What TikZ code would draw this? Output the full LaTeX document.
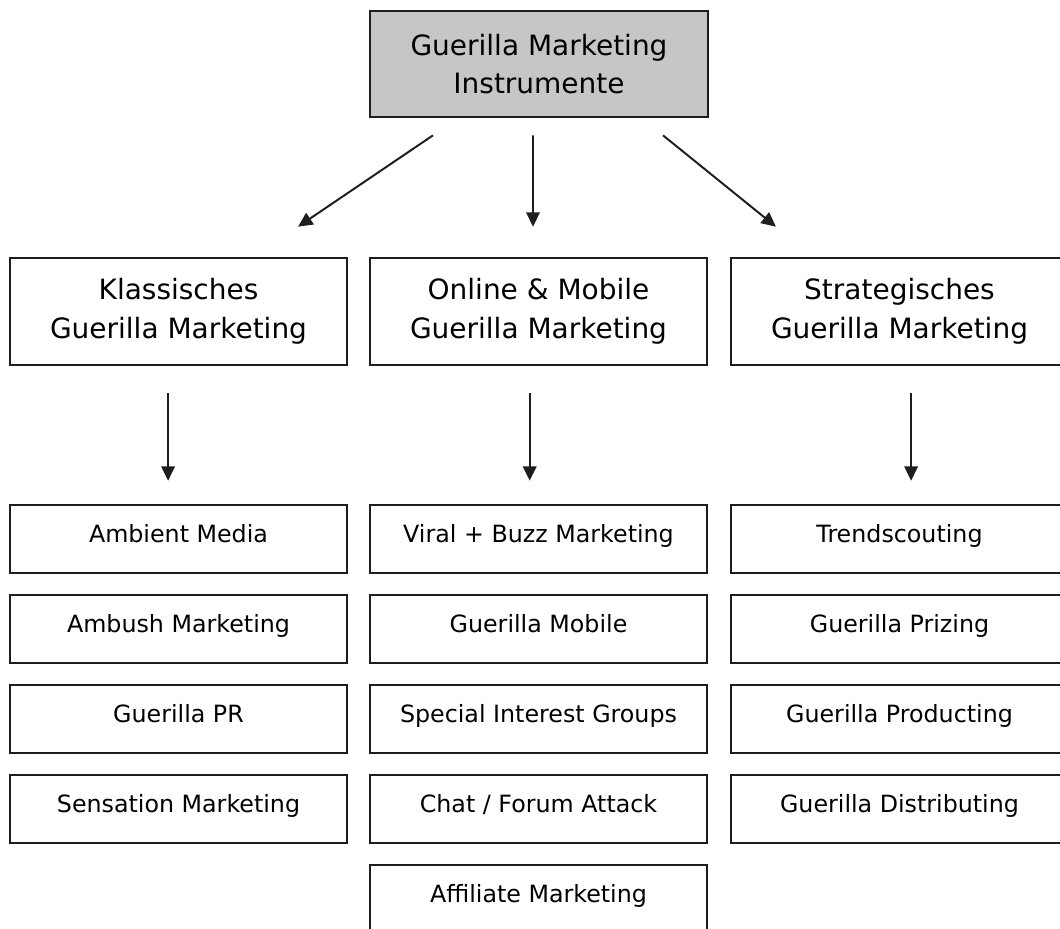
\documentclass[tikz,border=0pt]{standalone}
\usepackage{fontspec}
\setmainfont{DejaVu Sans}
\usetikzlibrary{arrows.meta, positioning, calc}

\definecolor{BoxGray}{HTML}{C6C6C6}
\definecolor{LineDark}{HTML}{1E1E1E}

\begin{document}
\begin{tikzpicture}[
    head/.style={draw=LineDark, fill=BoxGray, line width=1.9pt, minimum width=8.45cm, minimum height=2.65cm, inner sep=0pt, align=center, font=\fontsize{19.9}{27.4}\selectfont},
    group/.style={draw=LineDark, line width=1.9pt, minimum width=8.425cm, minimum height=2.675cm, inner sep=0pt, align=center, font=\fontsize{19.9}{27.4}\selectfont},
    item/.style={draw=LineDark, line width=1.9pt, minimum width=8.425cm, minimum height=1.7cm, inner sep=0pt, text height=0.44cm, text depth=0.29cm, font=\fontsize{16.9}{20}\selectfont},
    arr/.style={-{Triangle[length=0.36cm, width=0.34cm]}, line width=1.4pt, LineDark},
    down/.style={arr, shorten <=0.675cm, shorten >=0.575cm}
]
    \useasboundingbox (0,0) rectangle (26.5,-23.2);
    \clip (0,0) rectangle (26.5,-23.2);

    % top level
    \node[head] (instr) at (13.475, -1.6) {Guerilla Marketing\\Instrumente};

    % three groups
    \node[group] (klass) at (4.4625, -7.7875) {Klassisches\\Guerilla Marketing};
    \node[group] (online) at (13.4625, -7.7875) {Online \& Mobile\\Guerilla Marketing};
    \node[group] (strat) at (22.4875, -7.7875) {Strategisches\\Guerilla Marketing};

    % instruments
    \node[item] (k1) at (4.4625, -13.475) {Ambient Media};
    \node[item] (k2) at (4.4625, -15.725) {Ambush Marketing};
    \node[item] (k3) at (4.4625, -17.975) {Guerilla PR};
    \node[item] (k4) at (4.4625, -20.225) {Sensation Marketing};

    \node[item] (o1) at (13.4625, -13.475) {Viral + Buzz Marketing};
    \node[item] (o2) at (13.4625, -15.725) {Guerilla Mobile};
    \node[item] (o3) at (13.4625, -17.975) {Special Interest Groups};
    \node[item] (o4) at (13.4625, -20.225) {Chat / Forum Attack};
    \node[item] (o5) at (13.4625, -22.475) {Affiliate Marketing};

    \node[item] (s1) at (22.4875, -13.475) {Trendscouting};
    \node[item] (s2) at (22.4875, -15.725) {Guerilla Prizing};
    \node[item] (s3) at (22.4875, -17.975) {Guerilla Producting};
    \node[item] (s4) at (22.4875, -20.225) {Guerilla Distributing};

    % arrows
    \draw[arr] ([xshift=-2.65cm, yshift=-0.425cm]instr.south) -- ([xshift=2.99cm, yshift=0.75cm]klass.north);
    \draw[arr] ([xshift=-0.15cm, yshift=-0.425cm]instr.south) -- ([xshift=-0.1375cm, yshift=0.75cm]online.north);
    \draw[arr] ([xshift=3.1cm, yshift=-0.425cm]instr.south) -- ([xshift=-3.09cm, yshift=0.75cm]strat.north);

    \draw[down] ([xshift=-0.26cm]klass.south) -- ([xshift=-0.26cm]k1.north);
    \draw[down] ([xshift=-0.22cm]online.south) -- ([xshift=-0.22cm]o1.north);
    \draw[down] ([xshift=0.29cm]strat.south) -- ([xshift=0.29cm]s1.north);
\end{tikzpicture}
\end{document}
